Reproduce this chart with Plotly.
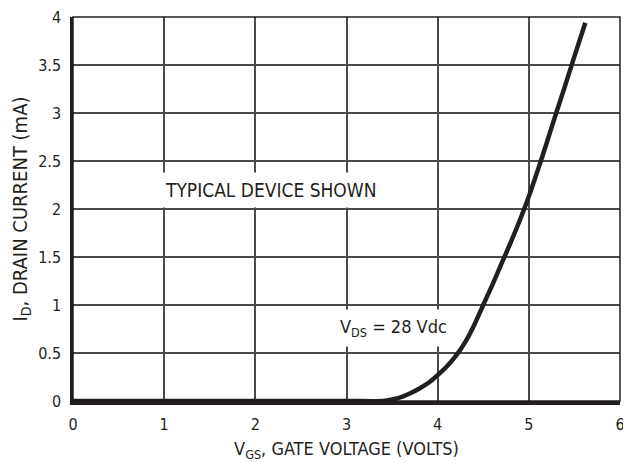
import plotly.graph_objects as go

# Data
vgs = [0, 1, 2, 3, 3.4, 3.5, 3.6, 3.7, 3.8, 3.9, 4.0, 4.1, 4.2, 4.3, 4.4, 4.5,
       4.6, 4.7, 4.8, 4.9, 5.0, 5.1, 5.2, 5.3, 5.4, 5.5, 5.62]
id_ma = [0, 0, 0, 0, 0, 0.015, 0.04, 0.08, 0.13, 0.19, 0.27, 0.36, 0.47, 0.61, 0.79, 1.0,
         1.21, 1.43, 1.65, 1.88, 2.13, 2.41, 2.70, 3.0, 3.29, 3.59, 3.94]
x_ticks = [0, 1, 2, 3, 4, 5, 6]
y_ticks = [0, 0.5, 1, 1.5, 2, 2.5, 3, 3.5, 4]
y_tick_labels = ["0", "0.5", "1", "1.5", "2", "2.5", "3", "3.5", "4"]

FONT = "DejaVu Sans Condensed, Liberation Sans Narrow, Arial Narrow, Liberation Sans, sans-serif"
INK = "#231f20"
GRID = "#4a4a4a"

fig = go.Figure()
fig.add_trace(go.Scatter(
    x=vgs, y=id_ma, mode="lines",
    line=dict(color=INK, width=4.5, shape="spline", smoothing=0.6),
    hoverinfo="skip", showlegend=False,
))

# the page body adds an 8px offset, so the figure is drawn 8px smaller
fig.update_layout(
    width=623, height=455,
    margin=dict(l=65, r=11, t=9, b=62),
    paper_bgcolor="white", plot_bgcolor="white",
    font=dict(family=FONT, color=INK, size=16),
    showlegend=False,
    xaxis=dict(
        range=[0, 6], tickvals=x_ticks, ticktext=[str(v) for v in x_ticks],
        showgrid=True, gridcolor=GRID, gridwidth=1.5,
        showline=True, linecolor=INK, linewidth=4,
        zeroline=False, ticks="", ticklabelstandoff=6, automargin=False,
        ticklabeloverflow="allow",
        tickfont=dict(family=FONT, size=16, color=INK),
        title=dict(text="V<sub>GS</sub>, GATE VOLTAGE (VOLTS)",
                   font=dict(family=FONT, size=18, color=INK), standoff=10),
    ),
    yaxis=dict(
        range=[0, 4], tickvals=y_ticks, ticktext=y_tick_labels,
        showgrid=True, gridcolor=GRID, gridwidth=1.5,
        showline=True, linecolor=INK, linewidth=2.5,
        zeroline=False, ticks="", ticklabelstandoff=6, automargin=False,
        ticklabeloverflow="allow",
        tickfont=dict(family=FONT, size=16, color=INK),
        title=dict(text="I<sub>D</sub>, DRAIN CURRENT (mA)",
                   font=dict(family=FONT, size=20, color=INK), standoff=8),
    ),
    shapes=[dict(type="rect", xref="paper", yref="paper", x0=0, y0=0, x1=1, y1=1,
                 line=dict(color=INK, width=1.5), layer="above")],
    annotations=[
        dict(x=2.17, y=2.2, xref="x", yref="y", text="TYPICAL DEVICE SHOWN",
             showarrow=False, bgcolor="white", borderpad=6,
             font=dict(family=FONT, size=19, color=INK)),
        dict(x=3.52, y=0.76, xref="x", yref="y", text="V<sub>DS</sub> = 28 Vdc",
             showarrow=False, bgcolor="white", borderpad=6,
             font=dict(family=FONT, size=18, color=INK)),
    ],
)

fig.write_html("out.html")
